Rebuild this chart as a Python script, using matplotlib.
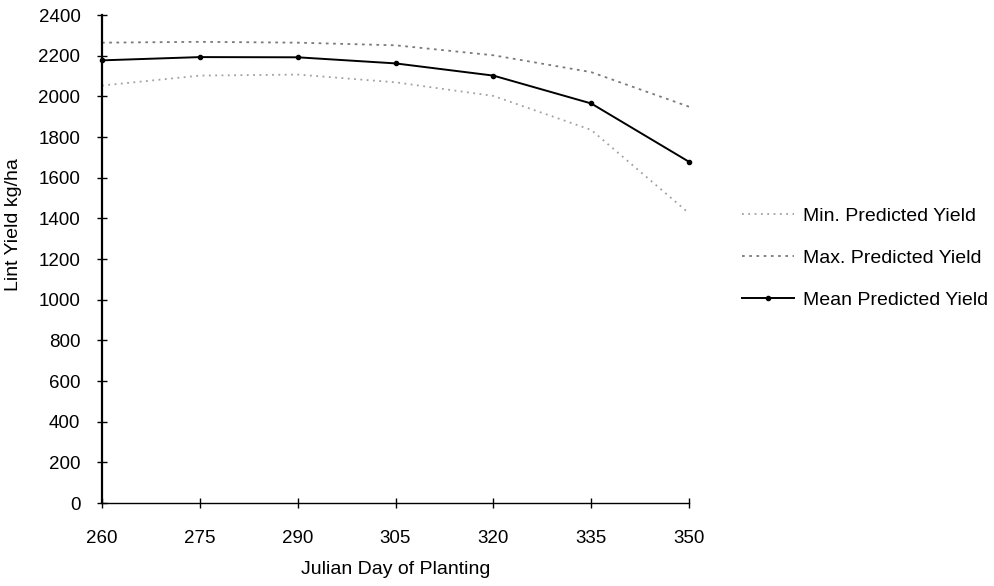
#!/usr/bin/env python3

"""
plot.py

Predicted lint yield against Julian day of planting.
"""

import matplotlib
matplotlib.use("Agg")
import matplotlib.pyplot as plt

# Data.
planting_day = [260, 275, 290, 305, 320, 335, 350]
min_yield = [2053, 2102, 2107, 2069, 2002, 1835, 1425]
max_yield = [2264, 2268, 2264, 2251, 2202, 2119, 1949]
mean_yield = [2177, 2193, 2192, 2162, 2102, 1965, 1678]
y_ticks = list(range(0, 2401, 200))

plt.rcParams['font.family'] = ['Liberation Sans', 'DejaVu Sans']

fig = plt.figure(figsize=(9.95, 5.86), dpi=100)
ax = fig.add_axes([0.1025, 0.1416, 0.59, 0.8328])

# Lines.
ax.plot(planting_day, min_yield, color='#a0a0a0', linestyle=(0, (1, 2.5)),
        linewidth=1.3, label='Min. Predicted Yield', clip_on=False)
ax.plot(planting_day, max_yield, color='#7a7a7a', linestyle=(0, (1.5, 2.5)),
        linewidth=1.3, label='Max. Predicted Yield', clip_on=False)
ax.plot(planting_day, mean_yield, color='black', linestyle='-', linewidth=1.4,
        marker='o', markersize=3, label='Mean Predicted Yield', clip_on=False)

# Axes.
ax.set_xlim(260, 350)
ax.set_ylim(0, 2400)
ax.set_xticks(planting_day)
ax.set_yticks(y_ticks)
ax.spines['top'].set_visible(False)
ax.spines['right'].set_visible(False)
ax.spines['left'].set_linewidth(1.6)
ax.spines['bottom'].set_linewidth(1.0)
ax.tick_params(direction='inout', length=7, width=1.0, labelsize=13.5)
ax.tick_params(axis='x', pad=16)
ax.tick_params(axis='y', pad=12)
ax.set_xlabel('Julian Day of Planting', fontsize=14, labelpad=10)
ax.set_ylabel('Lint Yield kg/ha', fontsize=14)
ax.yaxis.set_label_coords(-0.136, 0.57)

# Legend.
ax.legend(loc='center left', bbox_to_anchor=(1.06, 0.502), frameon=False,
          fontsize=14, handlelength=2.67, handletextpad=0.5, labelspacing=1.25)

fig.savefig('out.png', dpi=100)
plt.close(fig)
